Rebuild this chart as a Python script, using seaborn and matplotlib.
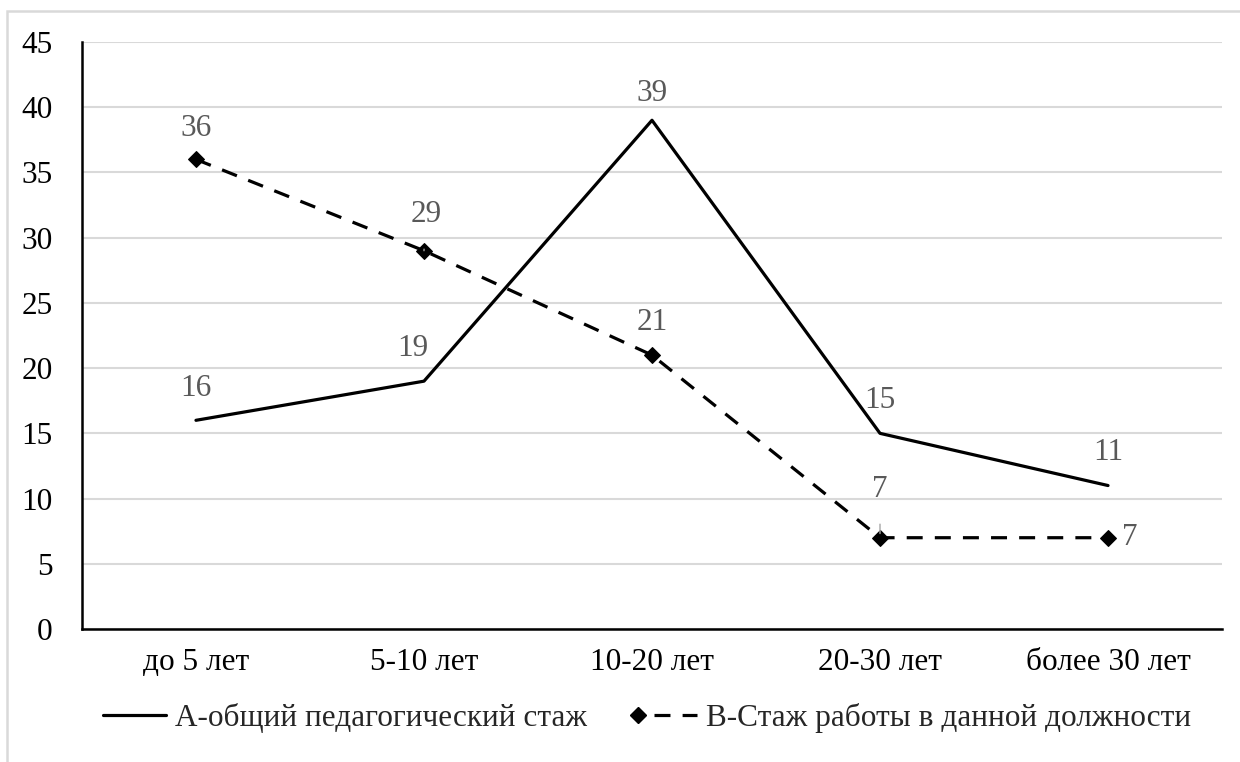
import matplotlib
matplotlib.use("Agg")
import matplotlib.pyplot as plt
import seaborn as sns
import pandas as pd
from matplotlib.lines import Line2D
from matplotlib.patches import Rectangle
from matplotlib.legend_handler import HandlerLine2DCompound

categories = ["до 5 лет", "5-10 лет", "10-20 лет", "20-30 лет", "более 30 лет"]
series_a = [16, 19, 39, 15, 11]
series_b = [36, 29, 21, 7, 7]
name_a = "А-общий педагогический стаж"
name_b = "В-Стаж работы в данной должности"
y_ticks = [0, 5, 10, 15, 20, 25, 30, 35, 40, 45]

sns.set_style("white")
plt.rcParams["font.family"] = ["Liberation Serif", "DejaVu Serif"]

FS = 22.5
LABEL_GRAY = "#595959"
GRID = "#d9d9d9"

fig = plt.figure(figsize=(12.4, 7.62), dpi=100)
ax = fig.add_axes([0.0661, 0.1745, 0.9855 - 0.0661, 0.9449 - 0.1745])

df_a = pd.DataFrame({"cat": categories, "val": series_a})
df_b = pd.DataFrame({"cat": categories, "val": series_b})

sns.lineplot(data=df_a, x="cat", y="val", ax=ax, color="black", linewidth=2.3,
             sort=False, zorder=3)
sns.lineplot(data=df_b, x="cat", y="val", ax=ax, color="black", linewidth=2.3,
             sort=False, marker="D", markersize=8, markeredgecolor="black",
             dashes=False, zorder=3)
ax.lines[1].set_dashes([5, 3.8])

ax.set_xlim(-0.5, len(categories) - 0.5)
ax.set_ylim(0, 45)
ax.set_yticks(y_ticks)
ax.set_xlabel("")
ax.set_ylabel("")
ax.grid(axis="y", color=GRID, linewidth=1.5, zorder=0)
ax.grid(axis="x", visible=False)
ax.set_axisbelow(True)
for side in ["top", "right"]:
    ax.spines[side].set_visible(False)
for side in ["left", "bottom"]:
    ax.spines[side].set_color("black")
    ax.spines[side].set_linewidth(1.8)
ax.tick_params(axis="y", length=0, pad=21, labelsize=FS, colors="black")
ax.tick_params(axis="x", length=0, pad=14, labelsize=FS, colors="black")

# value labels (pixel offsets from each point)
offs_a = [(0, 32), (-11, 33), (0, 27), (0, 33), (0, 33)]
offs_b = [(0, 31), (2, 36), (0, 33), (0, 48), (14, 0)]
last = len(series_b) - 1
for i, v in enumerate(series_a):
    ax.annotate(str(v), (i, v), xytext=offs_a[i], textcoords="offset pixels",
                ha="center", va="center", fontsize=FS, color=LABEL_GRAY)
for i, v in enumerate(series_b):
    kw = {}
    if i in (1, 3):
        kw["arrowprops"] = dict(arrowstyle="-", color="#a6a6a6", lw=1.0,
                                shrinkA=12, shrinkB=3)
    ax.annotate(str(v), (i, v), xytext=offs_b[i], textcoords="offset pixels",
                ha="left" if i == last else "center", va="center",
                fontsize=FS, color=LABEL_GRAY, **kw)


class LeftMarkerHandler(HandlerLine2DCompound):
    def create_artists(self, legend, orig_handle, xdescent, ydescent, width,
                       height, fontsize, trans):
        artists = super().create_artists(legend, orig_handle, xdescent,
                                         ydescent, width, height, fontsize,
                                         trans)
        line, marker = artists[0], artists[1]
        xd = line.get_xdata()
        marker.set_xdata([xd[0] + 3])
        line.set_xdata([xd[0] + 14, xd[-1]])
        return artists


h_a = Line2D([], [], color="black", linewidth=2.3)
h_b = Line2D([], [], color="black", linewidth=2.3, marker="D", markersize=8,
             dashes=[5, 3.8])
fig.legend([h_a, h_b], [name_a, name_b], loc="center",
           bbox_to_anchor=(0.522, 0.058), ncol=2, frameon=False, fontsize=FS,
           handlelength=2.0, handletextpad=0.3, columnspacing=1.5,
           numpoints=1, handler_map={h_b: LeftMarkerHandler(numpoints=1)})

# chart area border
fig.patches.append(Rectangle((7 / 1240, -0.2), 1.2, 1.2 - 11 / 762,
                             transform=fig.transFigure, fill=False,
                             edgecolor=GRID, linewidth=1.8, zorder=0))

fig.savefig("out.png", dpi=100, facecolor="white")
